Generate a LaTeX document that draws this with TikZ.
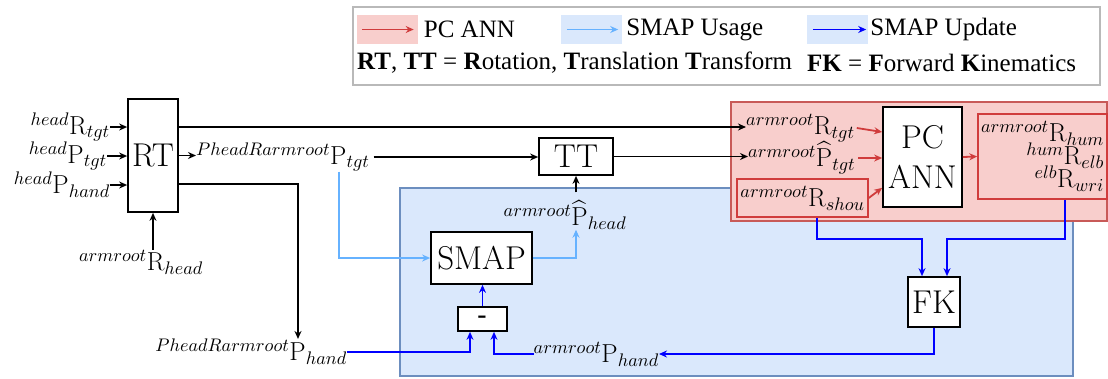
\documentclass[tikz,border=0pt]{standalone}
\usepackage{fontspec}
\newfontfamily\legfont{Liberation Serif}
\usepackage{amsmath}
\DeclareFontShape{OML}{cmm}{m}{it}{<->cmmi10}{}
\usetikzlibrary{arrows.meta, positioning}
\definecolor{pcred}{RGB}{208,60,60}
\definecolor{pcfill}{RGB}{248,206,204}
\definecolor{pcedge}{RGB}{200,90,88}
\definecolor{usecol}{RGB}{102,178,255}
\definecolor{updcol}{RGB}{0,0,255}
\definecolor{updfill}{RGB}{218,232,252}
\definecolor{updedge}{RGB}{108,142,191}
\tikzstyle{block} = [rectangle, draw=black, line width=1.7pt, fill=white, inner sep=0pt, font=\fontsize{33}{40}\selectfont]
\tikzstyle{lbl} = [inner sep=0pt, font=\fontsize{26}{30}\selectfont]
\tikzstyle{redbox} = [rectangle, draw=pcred, line width=1.5pt, fill=pcfill, inner sep=0pt]
\tikzstyle{patch} = [rectangle, minimum width=61pt, minimum height=29pt, inner sep=0pt]
\tikzstyle{legtext} = [inner sep=0pt, font=\legfont\fontsize{25}{30}\selectfont]
\tikzstyle{blkarrow} = [line width=1.8pt, -{Stealth[length=8pt, width=7pt]}]
\tikzstyle{pcarrow} = [blkarrow, draw=pcred]
\tikzstyle{usearrow} = [blkarrow, draw=usecol]
\tikzstyle{updarrow} = [blkarrow, draw=updcol]

\begin{document}
\begin{tikzpicture}[x=1pt, y=-1pt]
\useasboundingbox (0,0) rectangle (1108,378);
\draw [updedge, line width=1.5pt, fill=updfill] (400,188) rectangle (1073,376);
\draw [pcedge, line width=1.5pt, fill=pcfill] (731,102) rectangle (1107,221);
\draw [gray!55, line width=1.2pt] (353,7) rectangle (1100,85);
\node (pcpatch) [patch, fill=pcfill] at (387,29.5) {};
\node (usepatch) [patch, fill=updfill] at (591.5,29.5) {};
\node (updpatch) [patch, fill=updfill] at (837.5,29.5) {};
\node (pcleg) [legtext, right=6pt of pcpatch] {PC ANN};
\node (useleg) [legtext, right=4pt of usepatch] {SMAP Usage};
\node (updleg) [legtext, right=2pt of updpatch] {SMAP Update};
\node (rtdef) [legtext, anchor=west] at (357,63) {\textbf{RT}, \textbf{TT} = \textbf{R}otation, \textbf{T}ranslation \textbf{T}ransform};
\node (fkdef) [legtext, anchor=west] at (807,63) {\textbf{FK} = \textbf{F}orward \textbf{K}inematics};
\node (rt) [block, minimum width=50pt, minimum height=113pt] at (153,155.5) {RT};
\node (tt) [block, minimum width=74pt, minimum height=37pt] at (576,156.5) {TT};
\node (smap) [block, minimum width=101pt, minimum height=52pt] at (481.5,258) {SMAP};
\node (minus) [block, minimum width=49pt, minimum height=24pt, font=\fontsize{24}{28}\selectfont\bfseries] at (482.5,319) {-};
\node (fk) [block, minimum width=52pt, minimum height=50pt] at (934,302) {FK};
\node (pcann) [block, minimum width=79pt, minimum height=100pt, align=center] at (922.5,157) {PC\\ANN};
\node (shou) [redbox, lbl, minimum width=131pt, minimum height=38pt] at (802.5,198) {$^{armroot}\mathrm{R}_{shou}$};
\node (outbox) [redbox, lbl, minimum width=129pt, minimum height=85pt, align=right] at (1042.5,156.5) {$^{armroot}\mathrm{R}_{hum}$\\[-7pt] $^{hum}\mathrm{R}_{elb}$\\[-7pt] $^{elb}\mathrm{R}_{wri}$};
\node (hRtgt) [lbl, anchor=east] at (110,127) {$^{head}\mathrm{R}_{tgt}$};
\node (hPtgt) [lbl, anchor=east] at (107,156) {$^{head}\mathrm{P}_{tgt}$};
\node (hPhand) [lbl, anchor=east] at (110,185) {$^{head}\mathrm{P}_{hand}$};
\node (aRhead) [lbl] at (141,262) {$^{armroot}\mathrm{R}_{head}$};
\node (pRtgt) [lbl, anchor=west] at (196,157) {$^{PheadRarmroot}\mathrm{P}_{tgt}$};
\node (pRhand) [lbl, anchor=east] at (347,352) {$^{PheadRarmroot}\mathrm{P}_{hand}$};
\node (aPhead) [lbl] at (565,215) {$^{armroot}\widehat{\mathrm{P}}_{head}$};
\node (aPhand) [lbl, anchor=east] at (659,354) {$^{armroot}\mathrm{P}_{hand}$};
\node (aRtgt) [lbl, anchor=west] at (746,128) {$^{armroot}\mathrm{R}_{tgt}$};
\node (aPtgt) [lbl, anchor=west] at (748,158) {$^{armroot}\widehat{\mathrm{P}}_{tgt}$};
\draw [pcarrow, line width=1.2pt] ([xshift=6pt]pcpatch.west) -- ([xshift=-4pt]pcpatch.east);
\draw [usearrow, line width=1.2pt] ([xshift=6pt]usepatch.west) -- ([xshift=-4pt]usepatch.east);
\draw [updarrow, line width=1.2pt] ([xshift=6pt]updpatch.west) -- ([xshift=-2pt]updpatch.east);
\draw [blkarrow] (hRtgt.east) -- (hRtgt.east -| rt.west);
\draw [blkarrow] (hPtgt.east) -- (hPtgt.east -| rt.west);
\draw [blkarrow] (hPhand.east) -- (hPhand.east -| rt.west);
\draw [blkarrow] (aRhead.north -| rt.south) -- (rt.south);
\draw [blkarrow] ([yshift=28.5pt]rt.east) -- ([yshift=28.5pt]rt.east -| aRtgt.west);
\draw [blkarrow] (rt.east) -- (rt.east -| pRtgt.west);
\draw [blkarrow] ([yshift=-28.5pt]rt.east) -| ([xshift=-49pt]pRhand.north east);
\draw [blkarrow] ([xshift=4pt]pRtgt.east) -- (pRtgt.east -| tt.west);
\draw [blkarrow] (tt.east) -- (tt.east -| aPtgt.west);
\draw [blkarrow] (aPhead.north -| tt.south) ++(0,-8) -- (tt.south);
\draw [usearrow] ([xshift=-31pt]pRtgt.south east) |- (smap.west);
\draw [usearrow] (smap.east) -| (aPhead.south -| tt.south);
\draw [updarrow] (minus.north) -- (minus.north |- smap.south);
\draw [updarrow] (pRhand.east) -| ([xshift=-12.5pt]minus.south);
\draw [updarrow] (aPhand.west) -| ([xshift=11.5pt]minus.south);
\draw [updarrow] (fk.south) |- (aPhand.east);
\draw [updarrow] ([xshift=14.5pt]shou.south) -- ++(0,21) -| ([xshift=-12pt]fk.north);
\draw [updarrow] ([xshift=22.5pt]outbox.south) -- ++(0,39) -| ([xshift=13pt]fk.north);
\draw [pcarrow] ([xshift=2pt]aRtgt.east) -- ([yshift=25pt]pcann.west);
\draw [pcarrow] ([xshift=3pt]aPtgt.east) -- (aPtgt.east -| pcann.west);
\draw [pcarrow] (shou.east) -- ([yshift=20pt]pcann.south west);
\draw [pcarrow] (pcann.east) -- (outbox.west);
\end{tikzpicture}
\end{document}
